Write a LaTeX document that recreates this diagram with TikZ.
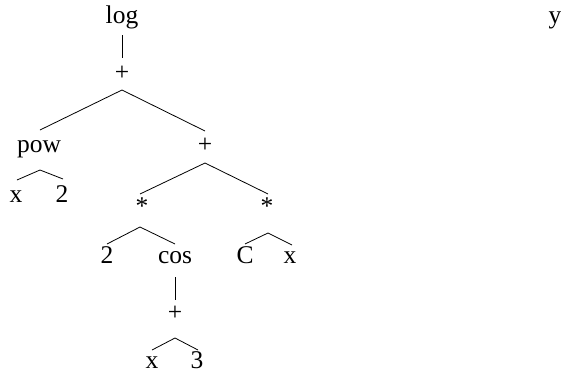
\documentclass[tikz,border=0pt]{standalone}
\usepackage{fontspec}
\setmainfont{Liberation Serif}
\begin{document}
\begin{tikzpicture}[x=1pt,y=-1pt,
  lbl/.style={anchor=base,inner sep=0pt,font=\fontsize{25.5}{30}\selectfont},
  edge/.style={line width=0.8pt,black}]
\useasboundingbox (0,0) rectangle (561,372);
% tree nodes, placed by baseline
\node[lbl] (log) at (122,23) {log};
\node[lbl] (p1)  at (122,80) {+};
\node[lbl] (pow) at (39,152) {pow};
\node[lbl] (p2)  at (205,152) {+};
\node[lbl] (xa)  at (16,202) {x};
\node[lbl] (ta)  at (62,202) {2};
\node[lbl] (s1)  at (142,214) {*};
\node[lbl] (s2)  at (267,214) {*};
\node[lbl] (tb)  at (107,263) {2};
\node[lbl] (cos) at (175,263) {cos};
\node[lbl] (cc)  at (245,263) {C};
\node[lbl] (xb)  at (290,263) {x};
\node[lbl] (p3)  at (175,320) {+};
\node[lbl] (xc)  at (152,368) {x};
\node[lbl] (th)  at (197,368) {3};
\node[lbl] (yy)  at (555,23) {y};
% branches
\draw[edge] ([shift={(0,12)}]log.base) -- ([shift={(0,-22)}]p1.base);
\draw[edge] ([shift={(1,-22)}]pow.base) -- ([shift={(0,10)}]p1.base) -- ([shift={(0,-21)}]p2.base);
\draw[edge] ([shift={(1,-22)}]xa.base) -- ([shift={(1,18)}]pow.base) -- ([shift={(1,-23)}]ta.base);
\draw[edge] ([shift={(-2,-20)}]s1.base) -- ([shift={(0,11)}]p2.base) -- ([shift={(1,-20)}]s2.base);
\draw[edge] ([shift={(0,-19)}]tb.base) -- ([shift={(-2,13)}]s1.base) -- ([shift={(0,-19)}]cos.base);
\draw[edge] ([shift={(0,-19)}]cc.base) -- ([shift={(1,19)}]s2.base) -- ([shift={(2,-18)}]xb.base);
\draw[edge] ([shift={(0,14)}]cos.base) -- ([shift={(0,-20)}]p3.base);
\draw[edge] ([shift={(0,-18)}]xc.base) -- ([shift={(0,18)}]p3.base) -- ([shift={(1,-18)}]th.base);
\end{tikzpicture}
\end{document}
